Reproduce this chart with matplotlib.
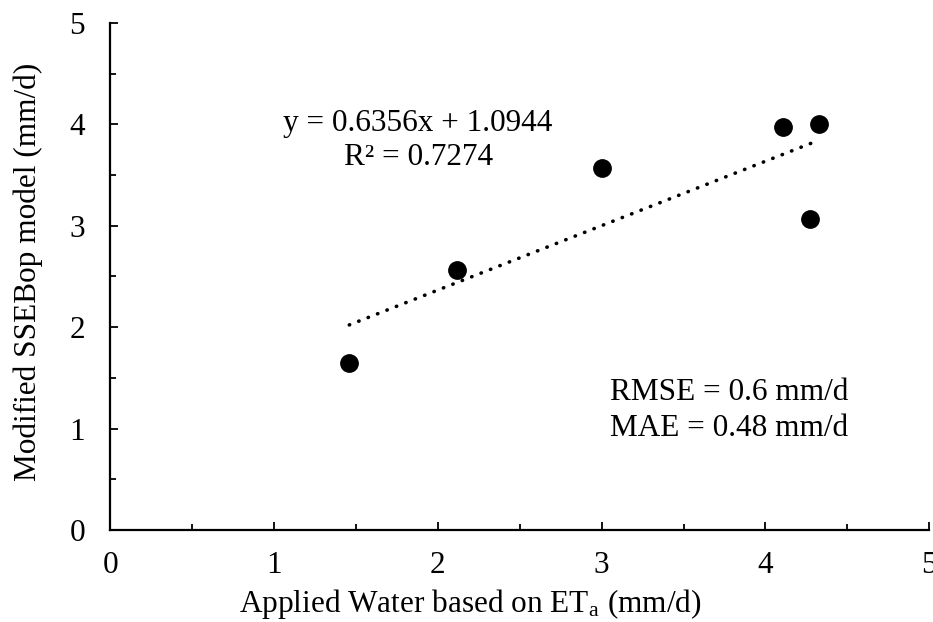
import numpy as np
import matplotlib.pyplot as plt
from matplotlib.ticker import MultipleLocator

# values
applied = [1.46, 2.12, 3.00, 4.11, 4.33, 4.27]
modelled = [1.65, 2.56, 3.57, 3.97, 4.00, 3.07]
slope = 0.6356
intercept = 1.0944

plt.rcParams["font.family"] = ["Liberation Serif", "DejaVu Serif"]
plt.rcParams["mathtext.fontset"] = "stix"

fig = plt.figure(figsize=(9.33, 6.22), dpi=100)
ax = fig.add_axes((0.118, 0.148, 0.878, 0.815))

ax.plot(applied, modelled, "o", color="black", markersize=12.5, zorder=3)

xs = np.array([min(applied), max(applied)])
ax.plot(xs, slope * xs + intercept, color="black", linewidth=2.6,
        linestyle=(0, (0.1, 2.7)), dash_capstyle="round")

ax.set_xlim(0, 5)
ax.set_ylim(0, 5)
ax.xaxis.set_major_locator(MultipleLocator(1))
ax.xaxis.set_minor_locator(MultipleLocator(0.5))
ax.yaxis.set_major_locator(MultipleLocator(1))
ax.yaxis.set_minor_locator(MultipleLocator(0.5))
ax.tick_params(which="both", direction="in", width=1.3, colors="black",
               labelsize=22.5)
ax.tick_params(which="major", length=5.5)
ax.tick_params(which="minor", length=4.5)
ax.tick_params(axis="x", which="major", pad=15)
ax.tick_params(axis="y", which="major", pad=18)

for side in ("top", "right"):
    ax.spines[side].set_visible(False)
for side in ("left", "bottom"):
    ax.spines[side].set_linewidth(1.6)

ax.set_xlabel("Applied Water based on ET$_\\mathregular{a}$ (mm/d)",
              fontsize=22.5, labelpad=5)
ax.xaxis.label.set_x(0.44)
ax.set_ylabel("Modified SSEBop model (mm/d)", fontsize=22.5, labelpad=19)
ax.yaxis.label.set_y(0.51)

ax.text(1.88, 3.84, "y = 0.6356x + 1.0944\nR² = 0.7274", fontsize=22.5,
        ha="center", va="center", multialignment="center", linespacing=1.2)
ax.text(3.05, 1.18, "RMSE = 0.6 mm/d\nMAE = 0.48 mm/d", fontsize=22.5,
        ha="left", va="center", linespacing=1.3)

fig.savefig("out.png", dpi=100)
